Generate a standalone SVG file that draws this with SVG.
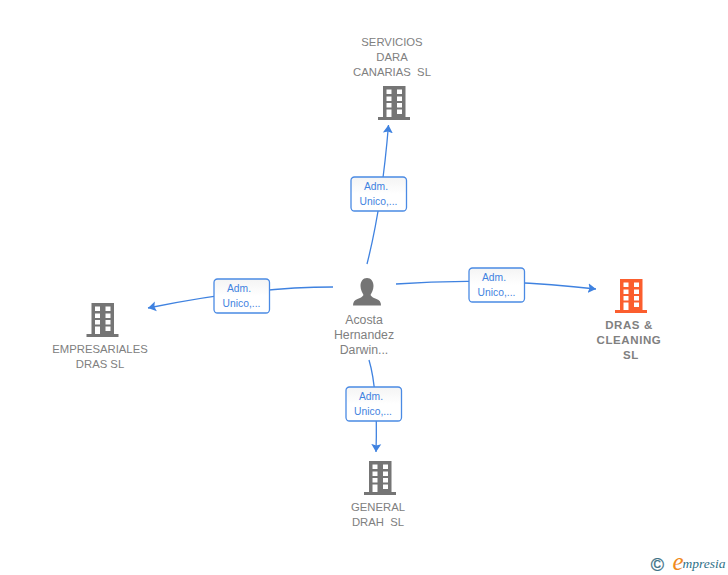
<svg xmlns="http://www.w3.org/2000/svg" width="728" height="575" viewBox="0 0 728 575">
<style>
text{font-family:"Liberation Sans",Arial,sans-serif;text-anchor:middle}
.n{font-size:11.300px;fill:#808080}
.b{font-size:11.500px;font-weight:bold;fill:#808080;letter-spacing:.6px}
.p{font-size:12.300px;fill:#808080}
.l{font-size:10.300px;fill:#3f82e0}
.c{fill:none;stroke:#3f82e0;stroke-width:1.300}
.box{fill:url(#lg);stroke:#4a8ae4;stroke-width:1.300}
</style>
<defs>
<linearGradient id="lg" x1="0" y1="0" x2="0" y2="1"><stop offset="0" stop-color="#f4f4f4"/><stop offset=".5" stop-color="#fff"/><stop offset="1" stop-color="#fff"/></linearGradient>
<marker id="a" markerUnits="userSpaceOnUse" markerWidth="12" markerHeight="12" refX="8" refY="5.500" orient="auto"><path d="M0,0.500L8,5.500L0,10.500L1.500,5.500Z" fill="#3f82e0"/></marker>
<symbol id="bld" overflow="visible"><path fill-rule="evenodd" d="M-11,0H11.500V31H16V34H-16V31H-11ZM-7.500,3.500V8H-2.500V3.500ZM3,3.500V8H8V3.500ZM-7.500,10.500V15H-2.500V10.500ZM3,10.500V15H8V10.500ZM-7.500,17V21.500H-2.500V17ZM3,17V21.500H8V17ZM-7.500,23.500V31H-2.500V23.500ZM3,23.500V28H8V23.500Z"/></symbol>
</defs>
<rect width="728" height="575" fill="#fff"/>
<g id="connectors">
<path class="c" marker-end="url(#a)" d="M367,264Q382,205 388.500,125"/>
<path class="c" marker-end="url(#a)" d="M396,284Q490,277 596,289"/>
<path class="c" marker-end="url(#a)" d="M333,287Q250,287 148,308"/>
<path class="c" marker-end="url(#a)" d="M369,360Q378,390 376,452"/>
</g>
<g id="label-top"><rect class="box" x="351" y="177" width="55.500" height="34" rx="3.500"/><text class="l" x="376" y="190">Adm.</text><text class="l" x="378.500" y="205">Unico,...</text></g>
<g id="label-right"><rect class="box" x="469" y="268" width="55.500" height="34" rx="3.500"/><text class="l" x="494" y="281">Adm.</text><text class="l" x="496.500" y="296">Unico,...</text></g>
<g id="label-left"><rect class="box" x="214" y="279" width="55.500" height="34" rx="3.500"/><text class="l" x="239" y="292">Adm.</text><text class="l" x="241.500" y="307">Unico,...</text></g>
<g id="label-bottom"><rect class="box" x="346" y="387" width="55.500" height="34" rx="3.500"/><text class="l" x="371" y="400">Adm.</text><text class="l" x="373" y="415">Unico,...</text></g>
<g id="node-servicios"><use href="#bld" x="394" y="86" fill="#757575"/><text class="n" x="392" y="46">SERVICIOS</text><text class="n" x="392" y="61">DARA</text><text class="n" x="392" y="76" xml:space="preserve">CANARIAS  SL</text></g>
<g id="node-person"><path fill="#757575" d="M367,278c4,0 6.500,3.500 6.500,8c0,4 -2,7 -3,9c1,2 3.500,3 6,4c3,1 4.500,3 4.500,6.500H353c0,-3.500 1.500,-5.500 4.500,-6.500c2.500,-1 5,-2 6,-4c-1,-2 -3,-5 -3,-9c0,-4.500 2.500,-8 6.500,-8Z"/><text class="p" x="364" y="324">Acosta</text><text class="p" x="364" y="339">Hernandez</text><text class="p" x="364" y="354">Darwin...</text></g>
<g id="node-dras"><use href="#bld" x="631" y="279" fill="#fb5e2e"/><text class="b" x="629" y="329">DRAS &amp;</text><text class="b" x="629" y="344">CLEANING</text><text class="b" x="631" y="359">SL</text></g>
<g id="node-empresariales"><use href="#bld" x="102.500" y="303" fill="#757575"/><text class="n" x="100" y="353">EMPRESARIALES</text><text class="n" x="100" y="368">DRAS SL</text></g>
<g id="node-general"><use href="#bld" x="380" y="461" fill="#757575"/><text class="n" x="378" y="511">GENERAL</text><text class="n" x="378" y="526" xml:space="preserve">DRAH  SL</text></g>
<g id="logo"><text x="657.500" y="570.500" style="font-size:18px;fill:#3d7186;stroke:#3d7186;stroke-width:.3">©</text><text x="678" y="570" style="font-family:'Liberation Serif',serif;font-style:italic;font-size:25px;fill:#f08a1d">e</text><text x="704" y="568" style="font-family:'Liberation Serif',serif;font-style:italic;font-size:13.500px;fill:#2f7187">mpresia</text></g>
</svg>
